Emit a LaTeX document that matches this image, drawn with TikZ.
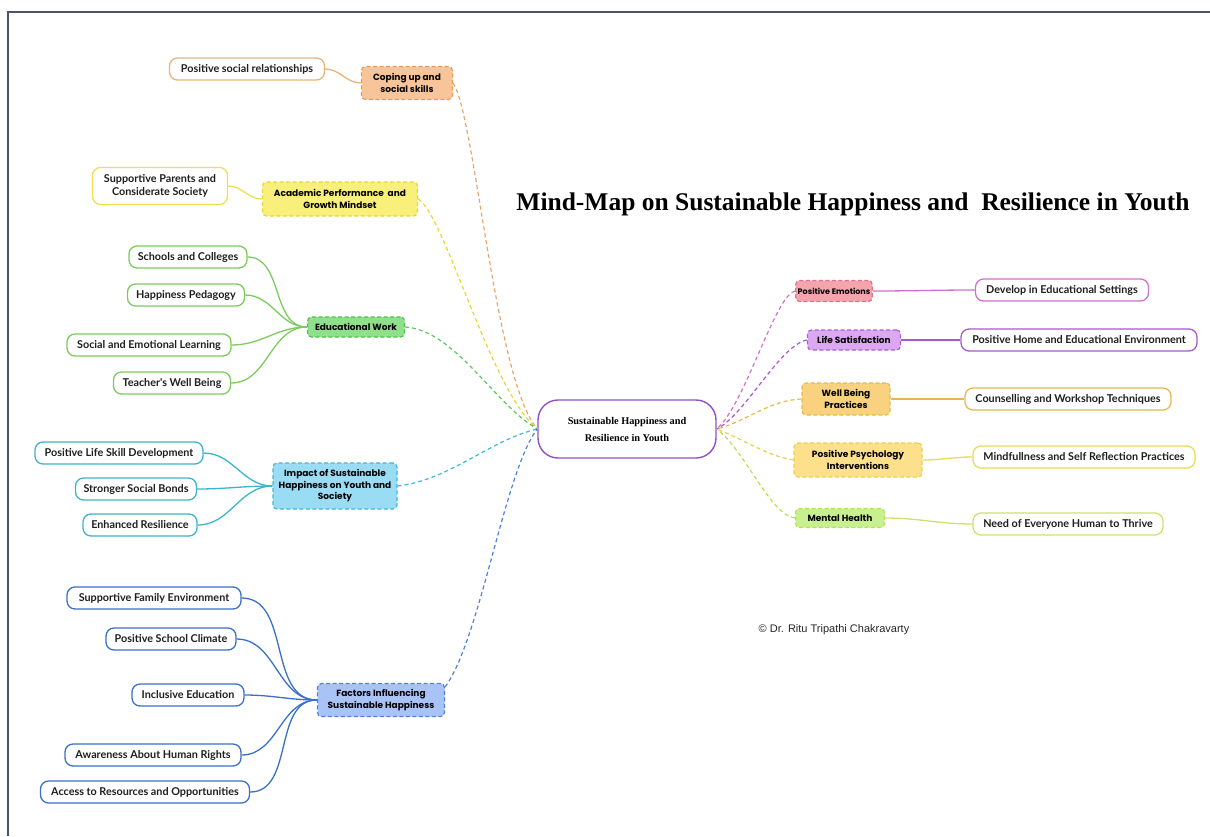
\documentclass[tikz,border=0pt]{standalone}
\usepackage{fontspec}
\setmainfont{Liberation Serif}
\newfontfamily\leafFont{Lato}
\newfontfamily\topicFont{Poppins}
\newfontfamily\noteFont{Liberation Sans}
\definecolor{copeF}{HTML}{F8C59A}\definecolor{copeD}{HTML}{E69A5A}\definecolor{copeL}{HTML}{E8B47A}
\definecolor{acadF}{HTML}{F8F07A}\definecolor{acadD}{HTML}{E6D636}\definecolor{acadL}{HTML}{EEE050}
\definecolor{eduF}{HTML}{8EE08A}\definecolor{eduD}{HTML}{50C050}\definecolor{eduL}{HTML}{7CCB5C}
\definecolor{impF}{HTML}{9ADCF4}\definecolor{impD}{HTML}{40B8D8}\definecolor{impL}{HTML}{3CB4CC}
\definecolor{facF}{HTML}{A9C3F7}\definecolor{facD}{HTML}{5080D8}\definecolor{facL}{HTML}{3A70C8}
\definecolor{emoF}{HTML}{F5A3AC}\definecolor{emoD}{HTML}{E07090}\definecolor{emoL}{HTML}{D070D0}
\definecolor{satF}{HTML}{DCA8F2}\definecolor{satD}{HTML}{A860D8}\definecolor{satL}{HTML}{A858D0}
\definecolor{wbF}{HTML}{F8D27E}\definecolor{wbD}{HTML}{E8B848}\definecolor{wbL}{HTML}{E8B84A}
\definecolor{ppF}{HTML}{FCE08C}\definecolor{ppD}{HTML}{E8D050}\definecolor{ppL}{HTML}{E8DC50}
\definecolor{mhF}{HTML}{C8F090}\definecolor{mhD}{HTML}{B8E050}\definecolor{mhL}{HTML}{D0E070}
\definecolor{centerD}{HTML}{9050C8}
\definecolor{frameC}{HTML}{4A5568}
\begin{document}
\begin{tikzpicture}[x=1pt,y=-1pt,
  leaf/.style={draw, rounded corners=8pt, line width=1.3pt, fill=white,
    font=\leafFont\bfseries\fontsize{10.8}{13}\selectfont, text=black!88,
    inner xsep=4pt, inner ysep=0pt, minimum height=22pt, align=center},
  topic/.style={draw, dash pattern=on 4pt off 2.5pt, rounded corners=4pt, line width=1.2pt,
    font=\topicFont\bfseries\fontsize{9}{11.5}\selectfont, align=center,
    inner xsep=2pt, inner ysep=1pt},
  link/.style={line width=1.3pt},
  dlink/.style={line width=1.2pt, dash pattern=on 4pt off 3pt},
]
\useasboundingbox (0,0) rectangle (1210,836);
\draw[frameC, line width=1.5pt] (8,836) -- (8,12) -- (1210,12);

% title
\node (title) at (853,204) {\bfseries\fontsize{25.5}{28}\selectfont Mind-Map on Sustainable Happiness and\ \ Resilience in Youth};
\node[font=\noteFont\fontsize{11}{12}\selectfont, text=black!85] (copy) at (834,630) {\textcopyright{} Dr. Ritu Tripathi Chakravarty};

% center
\node[draw=centerD, line width=1.4pt, rounded corners=20pt, minimum width=178pt, minimum height=58pt,
  align=center, font=\bfseries\fontsize{10.3}{17}\selectfont, fill=white] (center) at (627,429)
  {Sustainable Happiness and\\Resilience in Youth};

% left topics
\node[topic, fill=copeF, draw=copeD, minimum width=91pt, minimum height=33pt] (cope) at (407,83) {Coping up and\\social skills};
\node[topic, fill=acadF, draw=acadD, minimum width=155pt, minimum height=34pt] (acad) at (340,199) {Academic Performance\ \ and\\Growth Mindset};
\node[topic, fill=eduF, draw=eduD, minimum width=97pt, minimum height=20pt] (edu) at (356,327) {Educational Work};
\node[topic, fill=impF, draw=impD, minimum width=124pt, minimum height=46pt] (imp) at (335,486) {Impact of Sustainable\\Happiness on Youth and\\Society};
\node[topic, fill=facF, draw=facD, minimum width=127pt, minimum height=33pt] (fac) at (381,700) {Factors Influencing\\Sustainable Happiness};

% left leaves
\node[leaf, draw=copeL, minimum width=155pt] (l1) at (247,69) {Positive social relationships};
\node[leaf, draw=acadL, minimum width=135pt, minimum height=37pt] (l2) at (160,186) {Supportive Parents and\\Considerate Society};
\node[leaf, draw=eduL, minimum width=118pt] (l3) at (188,257) {Schools and Colleges};
\node[leaf, draw=eduL, minimum width=117pt] (l4) at (186,295) {Happiness Pedagogy};
\node[leaf, draw=eduL, minimum width=164pt] (l5) at (149,345) {Social and Emotional Learning};
\node[leaf, draw=eduL, minimum width=117pt] (l6) at (172,383) {Teacher's Well Being};
\node[leaf, draw=impL, minimum width=168pt] (l7) at (119,453) {Positive Life Skill Development};
\node[leaf, draw=impL, minimum width=121pt] (l8) at (136,489) {Stronger Social Bonds};
\node[leaf, draw=impL, minimum width=114pt] (l9) at (140,525) {Enhanced Resilience};
\node[leaf, draw=facL, minimum width=174pt] (l10) at (154,598) {Supportive Family Environment};
\node[leaf, draw=facL, minimum width=130pt] (l11) at (171,639) {Positive School Climate};
\node[leaf, draw=facL, minimum width=112pt] (l12) at (188,695) {Inclusive Education};
\node[leaf, draw=facL, minimum width=176pt] (l13) at (153,755) {Awareness About Human Rights};
\node[leaf, draw=facL, minimum width=209pt] (l14) at (145,792) {Access to Resources and Opportunities};

% right topics
\node[topic, fill=emoF, draw=emoD, minimum width=72pt, minimum height=21pt, font=\topicFont\bfseries\fontsize{8}{10}\selectfont] (emo) at (834,291) {Positive Emotions};
\node[topic, fill=satF, draw=satD, minimum width=93pt, minimum height=20pt] (sat) at (854,340) {Life Satisfaction};
\node[topic, fill=wbF, draw=wbD, minimum width=88pt, minimum height=32pt] (wb) at (846,399) {Well Being\\Practices};
\node[topic, fill=ppF, draw=ppD, minimum width=128pt, minimum height=34pt] (pp) at (858,460) {Positive Psychology\\Interventions};
\node[topic, fill=mhF, draw=mhD, minimum width=89pt, minimum height=19pt] (mh) at (840,518) {Mental Health};

% right leaves
\node[leaf, draw=emoL, minimum width=173pt] (r1) at (1062,290) {Develop in Educational Settings};
\node[leaf, draw=satL, minimum width=236pt] (r2) at (1079,340) {Positive Home and Educational Environment};
\node[leaf, draw=wbL, minimum width=206pt] (r3) at (1068,399) {Counselling and Workshop Techniques};
\node[leaf, draw=ppL, minimum width=222pt] (r4) at (1084,457) {Mindfullness and Self Reflection Practices};
\node[leaf, draw=mhL, minimum width=190pt] (r5) at (1068,524) {Need of Everyone Human to Thrive};

% dashed links to center
\draw[dlink, copeD!90] (cope.east) .. controls (475,115) and (495,380) .. (center.west);
\draw[dlink, acadD] (acad.east) .. controls (445,215) and (490,390) .. (center.west);
\draw[dlink, eduD!90] (edu.east) .. controls (455,330) and (495,405) .. (center.west);
\draw[dlink, impD] (imp.east) .. controls (450,480) and (490,440) .. (center.west);
\draw[dlink, facD] ([yshift=-4pt]fac.north east) .. controls (480,640) and (505,470) .. (center.west);
\draw[dlink, emoL] (emo.west) .. controls (775,295) and (745,405) .. (center.east);
\draw[dlink, satL] (sat.west) .. controls (780,345) and (745,415) .. (center.east);
\draw[dlink, wbD] (wb.west) .. controls (770,400) and (745,422) .. (center.east);
\draw[dlink, ppD] (pp.west) .. controls (765,455) and (745,440) .. (center.east);
\draw[dlink, mhD] (mh.west) .. controls (770,515) and (745,450) .. (center.east);

% solid leaf links
\draw[link, copeL] (l1.east) to[out=0,in=180] (cope.west);
\draw[link, acadL] (l2.east) to[out=0,in=180] (acad.west);
\foreach \n in {l3,l4,l5,l6} \draw[link, eduL] (\n.east) to[out=0,in=180] (edu.west);
\foreach \n in {l7,l8,l9} \draw[link, impL] (\n.east) to[out=0,in=180] (imp.west);
\foreach \n in {l10,l11,l12,l13,l14} \draw[link, facL] (\n.east) to[out=0,in=180] (fac.west);
\draw[link, emoL] (emo.east) to[out=0,in=180] (r1.west);
\draw[link, satL] (sat.east) to[out=0,in=180] (r2.west);
\draw[link, wbL] (wb.east) to[out=0,in=180] (r3.west);
\draw[link, ppL] (pp.east) to[out=0,in=180] (r4.west);
\draw[link, mhL] (mh.east) to[out=0,in=180] (r5.west);
\end{tikzpicture}
\end{document}
